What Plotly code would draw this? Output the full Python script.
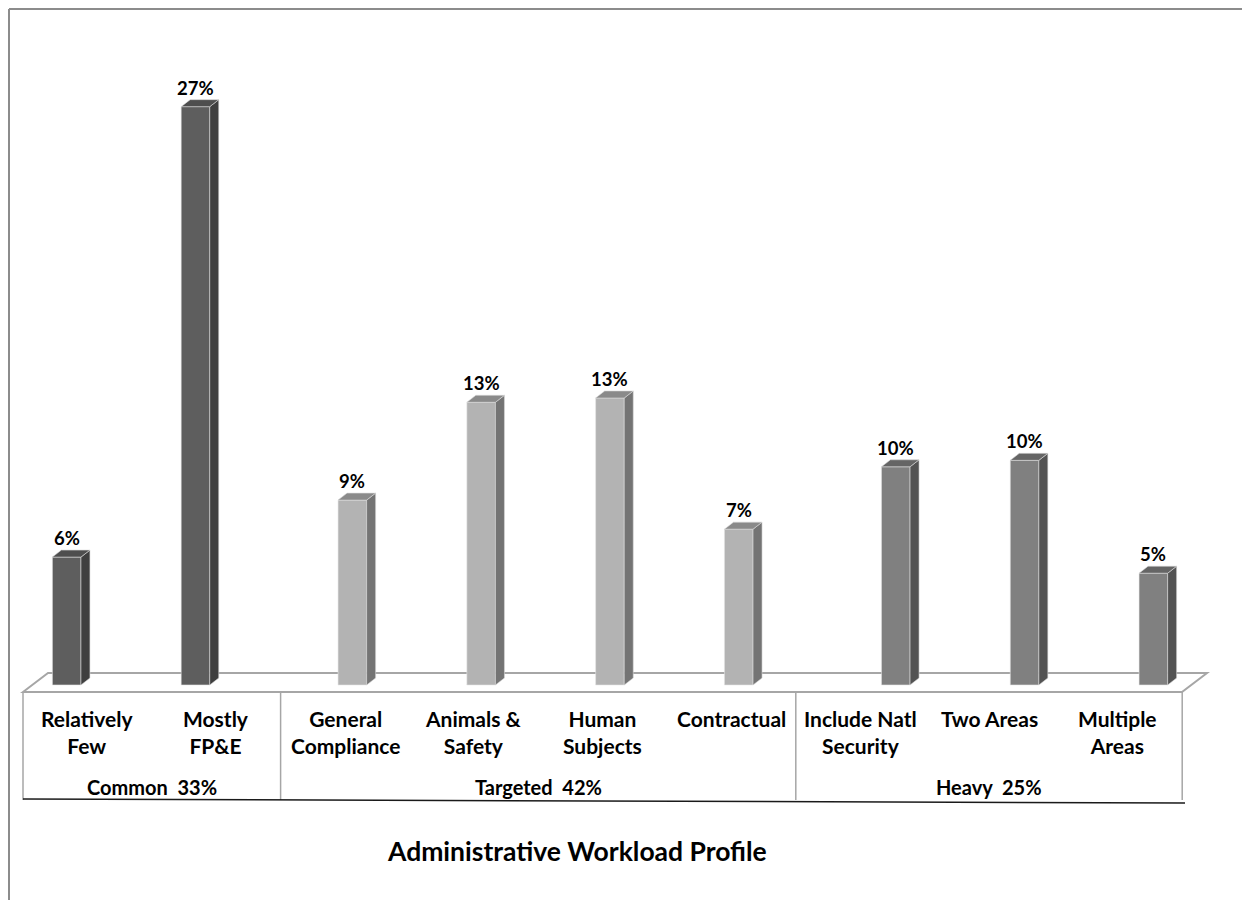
import plotly.graph_objects as go

# ---- data ----
categories = ["Relatively<br>Few", "Mostly<br>FP&E", "General<br>Compliance", "Animals &<br>Safety",
              "Human<br>Subjects", "Contractual", "Include Natl<br>Security", "Two Areas", "Multiple<br>Areas"]
values = [5.95, 26.9, 8.6, 13.15, 13.35, 7.25, 10.15, 10.45, 5.2]
cat_group = [0, 0, 1, 1, 1, 1, 2, 2, 2]
group_labels = ["Common\u00a0 33%", "Targeted\u00a0 42%", "Heavy\u00a0 25%"]
title_text = "Administrative Workload Profile"

# ---- styling ----
W, H = 1250, 900
OFF = 8                    # page body margin offset
PX0, PXW = 23, 128.8       # pixel of category edge -0.5, pixels per category
PY0, PPU = 685, 21.5       # pixel of value 0, pixels per percent
front_col = ["#5e5e5e", "#b3b3b3", "#808080"]
side_col = ["#3f3f3f", "#747474", "#535353"]
top_col = ["#4e4e4e", "#8a8a8a", "#656565"]
slot_off = [-0.161, 0.057, 0.276]
bar_w = 0.222
DX, DY = 9 / PXW, 7 / PPU
FONT = "Lato"


def X(px):
    return (px - PX0) / PXW - 0.5


def Y(py):
    return (PY0 - py) / PPU


def P(px, py):
    return (px - OFF) / W, 1 - (py - OFF) / H


fig = go.Figure()

bx = [i + slot_off[g] for i, g in enumerate(cat_group)]

fig.add_trace(go.Bar(
    x=bx, y=values, width=bar_w,
    marker=dict(color=[front_col[g] for g in cat_group], line=dict(width=0.6, color="#e6e6e6")),
    hoverinfo="skip", showlegend=False,
))

for g in range(3):
    sx, sy, tx, ty = [], [], [], []
    for i, v in enumerate(values):
        if cat_group[i] != g:
            continue
        xl = bx[i] - bar_w / 2
        xr = bx[i] + bar_w / 2
        sx += [xr, xr + DX, xr + DX, xr, xr, None]
        sy += [0, DY, v + DY, v, 0, None]
        tx += [xl, xl + DX, xr + DX, xr, xl, None]
        ty += [v, v + DY, v + DY, v, v, None]
    fig.add_trace(go.Scatter(x=sx, y=sy, mode="lines", fill="toself", fillcolor=side_col[g],
                             line=dict(width=0.6, color="#d9d9d9"), hoverinfo="skip", showlegend=False))
    fig.add_trace(go.Scatter(x=tx, y=ty, mode="lines", fill="toself", fillcolor=top_col[g],
                             line=dict(width=0.6, color="#d9d9d9"), hoverinfo="skip", showlegend=False))

annotations = []
# value labels
for i, v in enumerate(values):
    annotations.append(dict(x=bx[i], y=v, xref="x", yref="y", text=f"{v:.0f}%", showarrow=False,
                            yanchor="middle", yshift=19,
                            font=dict(family=FONT, size=18.5, color="black", weight="bold")))

# category labels
for i, c in enumerate(categories):
    annotations.append(dict(x=i, y=Y(704), xref="x", yref="y", text=c, showarrow=False,
                            yanchor="top", xanchor="center",
                            font=dict(family=FONT, size=21, color="black", weight="bold")))

# group labels
bounds = [0]
for g in range(3):
    bounds.append(bounds[-1] + cat_group.count(g))
for g, lab in enumerate(group_labels):
    xc = (bounds[g] + bounds[g + 1]) / 2 - 0.5
    annotations.append(dict(x=xc, y=Y(787), xref="x", yref="y", text=lab, showarrow=False,
                            yanchor="middle", font=dict(family=FONT, size=20, color="black", weight="bold")))

tx_, ty_ = P(577, 851)
annotations.append(dict(x=tx_, y=ty_, xref="paper", yref="paper", text=title_text, showarrow=False,
                        yanchor="middle", xanchor="center",
                        font=dict(family=FONT, size=26.5, color="black", weight="bold")))

shapes = []
# floor
fl = [(23, 692), (48, 673), (1207, 673), (1182, 692)]
path = "M " + " L ".join(f"{X(a)},{Y(b)}" for a, b in fl) + " Z"
shapes.append(dict(type="path", path=path, xref="x", yref="y", fillcolor="white",
                   line=dict(color="#a6a6a6", width=2), layer="below"))
# table verticals
for b in bounds:
    xb = b - 0.5
    shapes.append(dict(type="line", xref="x", yref="y", x0=xb, x1=xb, y0=Y(692), y1=Y(800),
                       line=dict(color="#a6a6a6", width=1.5)))
# table bottom
shapes.append(dict(type="line", xref="x", yref="y", x0=X(23), x1=X(1185), y0=Y(799), y1=Y(803),
                   line=dict(color="#1a1a1a", width=1.5)))
# chart frame (kept inside the figure)
fx = 1.0 / W
fy = 1 - 1.0 / H
shapes.append(dict(type="line", xref="paper", yref="paper", x0=fx, x1=fx, y0=fy, y1=0,
                   line=dict(color="#8c8c8c", width=2)))
shapes.append(dict(type="line", xref="paper", yref="paper", x0=fx, x1=1, y0=fy, y1=fy,
                   line=dict(color="#8c8c8c", width=2)))

fig.update_layout(
    width=W, height=H,
    margin=dict(l=0, r=0, t=0, b=0),
    paper_bgcolor="white", plot_bgcolor="rgba(0,0,0,0)",
    xaxis=dict(range=[X(OFF), X(W + OFF)], domain=[0, 1], visible=False, fixedrange=True),
    yaxis=dict(range=[Y(H + OFF), Y(OFF)], domain=[0, 1], visible=False, fixedrange=True),
    annotations=annotations, shapes=shapes,
    showlegend=False,
)

fig.write_html("out.html")
